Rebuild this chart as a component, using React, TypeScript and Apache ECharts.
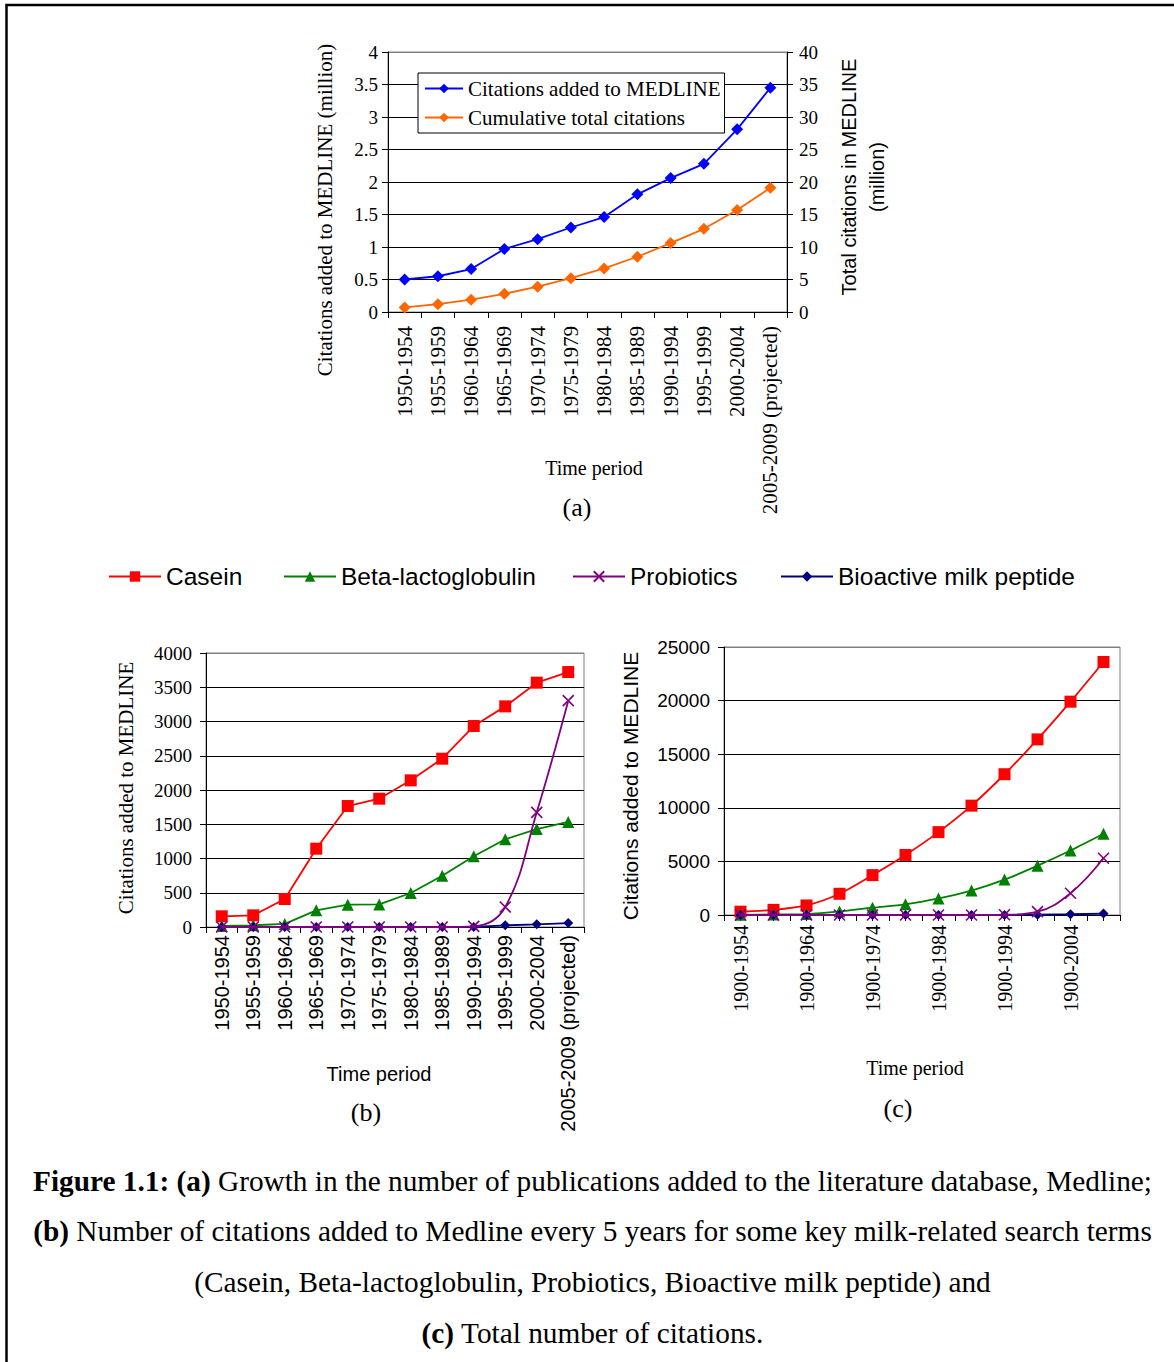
import React, { useEffect, useRef } from "react";
import * as echarts from "echarts";

// ---------- DATA ----------
const periodsA = [
  "1950-1954", "1955-1959", "1960-1964", "1965-1969", "1970-1974", "1975-1979",
  "1980-1984", "1985-1989", "1990-1994", "1995-1999", "2000-2004", "2005-2009 (projected)",
];
const citationsAdded = [0.5, 0.55, 0.66, 0.97, 1.12, 1.3, 1.46, 1.81, 2.06, 2.28, 2.81, 3.45];
const cumulativeTotal = [0.7, 1.2, 1.9, 2.8, 3.9, 5.2, 6.7, 8.5, 10.6, 12.8, 15.7, 19.1];

const periodsB = periodsA;
const caseinB = [156, 170, 409, 1143, 1766, 1873, 2141, 2457, 2934, 3221, 3567, 3722];
const betaB = [15, 25, 45, 243, 326, 330, 496, 749, 1032, 1280, 1430, 1533];
const probioticsB = [0, 0, 0, 0, 0, 0, 0, 0, 10, 292, 1674, 3304];
const peptideB = [0, 0, 0, 0, 0, 0, 0, 0, 0, 24, 39, 58];

const periodsC = [
  "1900-1954", "1900-1959", "1900-1964", "1900-1969", "1900-1974", "1900-1979",
  "1900-1984", "1900-1989", "1900-1994", "1900-1999", "1900-2004", "1900-2009",
];
const caseinC = [310, 480, 890, 1980, 3720, 5600, 7730, 10200, 13130, 16380, 19900, 23600];
const betaC = [20, 45, 90, 330, 680, 1000, 1550, 2280, 3300, 4600, 6020, 7580];
const probioticsC = [0, 0, 0, 0, 0, 0, 0, 0, 20, 310, 2030, 5290];
const peptideC = [0, 0, 0, 0, 0, 0, 0, 0, 0, 30, 70, 130];

const seriesNames = ["Casein", "Beta-lactoglobulin", "Probiotics", "Bioactive milk peptide"];
const legendNamesA = ["Citations added to MEDLINE", "Cumulative total citations"];

const captionLines = [
  "{b|Figure 1.1:} {b|(a)} Growth in the number of publications added to the literature database, Medline;",
  "{b|(b)} Number of citations added to Medline every 5 years for some key milk-related search terms",
  "(Casein, Beta-lactoglobulin, Probiotics, Bioactive milk peptide) and",
  "{b|(c)} Total number of citations.",
];

// ---------- STYLE ----------
const SERIF = '"Liberation Serif", "Times New Roman", serif';
const SANS = '"Liberation Sans", Arial, sans-serif';
const RED = "#FF0000";
const GREEN = "#008000";
const PURPLE = "#800080";
const NAVY = "#000080";
const BLUE = "#0000FF";
const ORANGE = "#FF6600";
const CROSS = "path://M0,0L10,10M10,0L0,10";

const gridColors = (n: number) => {
  const arr: string[] = [];
  for (let i = 0; i < n - 1; i++) arr.push("#000");
  arr.push("#808080");
  return arr;
};

export default function App() {
  const ref = useRef<HTMLDivElement>(null);

  useEffect(() => {
    document.body.style.margin = "0";
    if (!ref.current) return;
    const chart = echarts.init(ref.current, null, { renderer: "svg" });

    const catAxisBase = (gridIndex: number, data: string[], font: string, margin: number, size: number) => ({
      type: "category",
      gridIndex,
      data,
      boundaryGap: true,
      position: "bottom",
      axisLine: { show: true, onZero: false, lineStyle: { color: "#000", width: 1 } },
      axisTick: { show: true, alignWithLabel: false, length: 6, lineStyle: { color: "#000" } },
      axisLabel: {
        rotate: 90,
        interval: 0,
        margin,
        color: "#000",
        fontFamily: font,
        fontSize: size,
      },
      splitLine: { show: false },
    });

    const valAxisBase = (
      gridIndex: number,
      min: number,
      max: number,
      interval: number,
      font: string,
      margin: number,
      nLines: number,
      position = "left",
      split = true
    ) => ({
      type: "value",
      gridIndex,
      min,
      max,
      interval,
      position,
      axisLine: { show: true, lineStyle: { color: "#000", width: 1 } },
      axisTick: { show: true, length: 6, lineStyle: { color: "#000" } },
      axisLabel: {
        color: "#000",
        fontFamily: font,
        fontSize: 19,
        margin,
        formatter: (v: number) => String(v),
      },
      splitLine: split
        ? { show: true, lineStyle: { color: gridColors(nLines), width: 1 } }
        : { show: false },
    });

    const lineSeries = (
      name: string,
      data: number[],
      xAxisIndex: number,
      yAxisIndex: number,
      color: string,
      symbol: string,
      symbolSize: number,
      smooth: number | boolean,
      z: number
    ) => ({
      type: "line",
      name,
      data,
      xAxisIndex,
      yAxisIndex,
      symbol,
      symbolSize,
      smooth,
      z,
      lineStyle: { color, width: 1.8 },
      itemStyle: {
        color,
        borderColor: color,
        borderWidth: symbol === CROSS ? 1.6 : 0,
      },
      emphasis: { disabled: true },
    });

    const legendItem = (name: string, left: number) => ({
      data: [name],
      left,
      top: 564,
      itemWidth: 52,
      itemHeight: 13,
      itemGap: 10,
      padding: 0,
      selectedMode: false,
      textStyle: { fontFamily: SANS, fontSize: 24.5, color: "#000" },
    });

    const textEl = (
      text: string,
      x: number,
      y: number,
      font: string,
      size: number,
      rotation = 0,
      extra: any = {}
    ) => ({
      type: "text",
      x,
      y,
      rotation,
      z: 100,
      style: {
        text,
        fontFamily: font,
        fontSize: size,
        fill: "#000",
        align: "center",
        verticalAlign: "middle",
        ...extra,
      },
    });

    const option: any = {
      animation: false,
      backgroundColor: "#fff",
      grid: [
        { left: 388, top: 52, width: 399, height: 260, show: true, borderColor: "#808080", borderWidth: 1, containLabel: false },
        { left: 206, top: 653, width: 378, height: 274, show: true, borderColor: "#808080", borderWidth: 1, containLabel: false },
        { left: 724, top: 647, width: 396, height: 268, show: true, borderColor: "#808080", borderWidth: 1, containLabel: false },
      ],
      legend: [
        {
          data: legendNamesA,
          orient: "vertical",
          left: 418,
          top: 73,
          padding: [5, 4, 5, 6],
          itemGap: 8,
          itemWidth: 38,
          itemHeight: 12,
          borderColor: "#000",
          borderWidth: 1,
          backgroundColor: "#fff",
          selectedMode: false,
          textStyle: { fontFamily: SERIF, fontSize: 21, color: "#000", lineHeight: 20 },
        },
        legendItem(seriesNames[0], 108),
        legendItem(seriesNames[1], 283),
        legendItem(seriesNames[2], 572),
        legendItem(seriesNames[3], 780),
      ],
      xAxis: [
        catAxisBase(0, periodsA, SERIF, 14, 21),
        catAxisBase(1, periodsB, SANS, 8, 20),
        {
          ...catAxisBase(2, periodsC, SERIF, 10, 20),
          axisTick: { show: false },
          axisLabel: { rotate: 90, interval: 1, margin: 10, color: "#000", fontFamily: SERIF, fontSize: 20 },
        },
        {
          type: "category",
          gridIndex: 2,
          position: "bottom",
          data: periodsC.flatMap((p) => [p + "a", p + "b"]),
          boundaryGap: true,
          axisLine: { show: false, onZero: false },
          axisTick: { show: true, interval: 0, length: 6, lineStyle: { color: "#000" } },
          axisLabel: { show: false },
          splitLine: { show: false },
        },
      ],
      yAxis: [
        valAxisBase(0, 0, 4, 0.5, SERIF, 10, 9),
        valAxisBase(0, 0, 40, 5, SERIF, 12, 9, "right", false),
        valAxisBase(1, 0, 4000, 500, SERIF, 14, 9),
        valAxisBase(2, 0, 25000, 5000, SANS, 14, 6),
      ],
      series: [
        lineSeries(legendNamesA[0], citationsAdded, 0, 0, BLUE, "diamond", 12, false, 3),
        lineSeries(legendNamesA[1], cumulativeTotal, 0, 1, ORANGE, "diamond", 12, false, 3),

        lineSeries(seriesNames[0], caseinB, 1, 2, RED, "rect", 12, false, 3),
        lineSeries(seriesNames[1], betaB, 1, 2, GREEN, "triangle", 12, false, 3),
        lineSeries(seriesNames[3], peptideB, 1, 2, NAVY, "diamond", 10, false, 3),
        lineSeries(seriesNames[2], probioticsB, 1, 2, PURPLE, CROSS, 11, 0.4, 4),

        lineSeries(seriesNames[0], caseinC, 2, 3, RED, "rect", 12, 0.3, 3),
        lineSeries(seriesNames[1], betaC, 2, 3, GREEN, "triangle", 12, 0.3, 3),
        lineSeries(seriesNames[3], peptideC, 2, 3, NAVY, "diamond", 10, 0.3, 3),
        lineSeries(seriesNames[2], probioticsC, 2, 3, PURPLE, CROSS, 11, 0.4, 4),
      ],
      graphic: [
        {
          type: "rect",
          z: 100,
          shape: { x: 6.5, y: 5, width: 1300, height: 1500 },
          style: { fill: "none", stroke: "#000", lineWidth: 2.5 },
          silent: true,
        },
        textEl("Citations added to MEDLINE (million)", 325, 210, SERIF, 21, Math.PI / 2),
        textEl("Total citations in MEDLINE\n(million)", 863, 177, SANS, 20, Math.PI / 2, { lineHeight: 28 }),
        textEl("Time period", 594, 468, SERIF, 20),
        textEl("(a)", 577, 507, SERIF, 26),
        textEl("Citations added to MEDLINE", 126, 788, SERIF, 21, Math.PI / 2),
        textEl("Time period", 379, 1074, SANS, 20),
        textEl("(b)", 366, 1112, SERIF, 26),
        textEl("Citations added to MEDLINE", 630, 786, SANS, 21, Math.PI / 2),
        textEl("Time period", 915, 1068, SERIF, 20),
        textEl("(c)", 898, 1108, SERIF, 26),
        ...captionLines.map((line, i) =>
          textEl(line, 592.5, [1181, 1231, 1282, 1333][i], SERIF, 29.3, 0, {
            rich: {
              b: { fontFamily: SERIF, fontSize: 29.3, fontWeight: "bold", fill: "#000" },
            },
          })
        ),
      ],
    };

    chart.setOption(option);
    return () => chart.dispose();
  }, []);

  return <div ref={ref} style={{ width: 1174, height: 1362 }} />;
}
